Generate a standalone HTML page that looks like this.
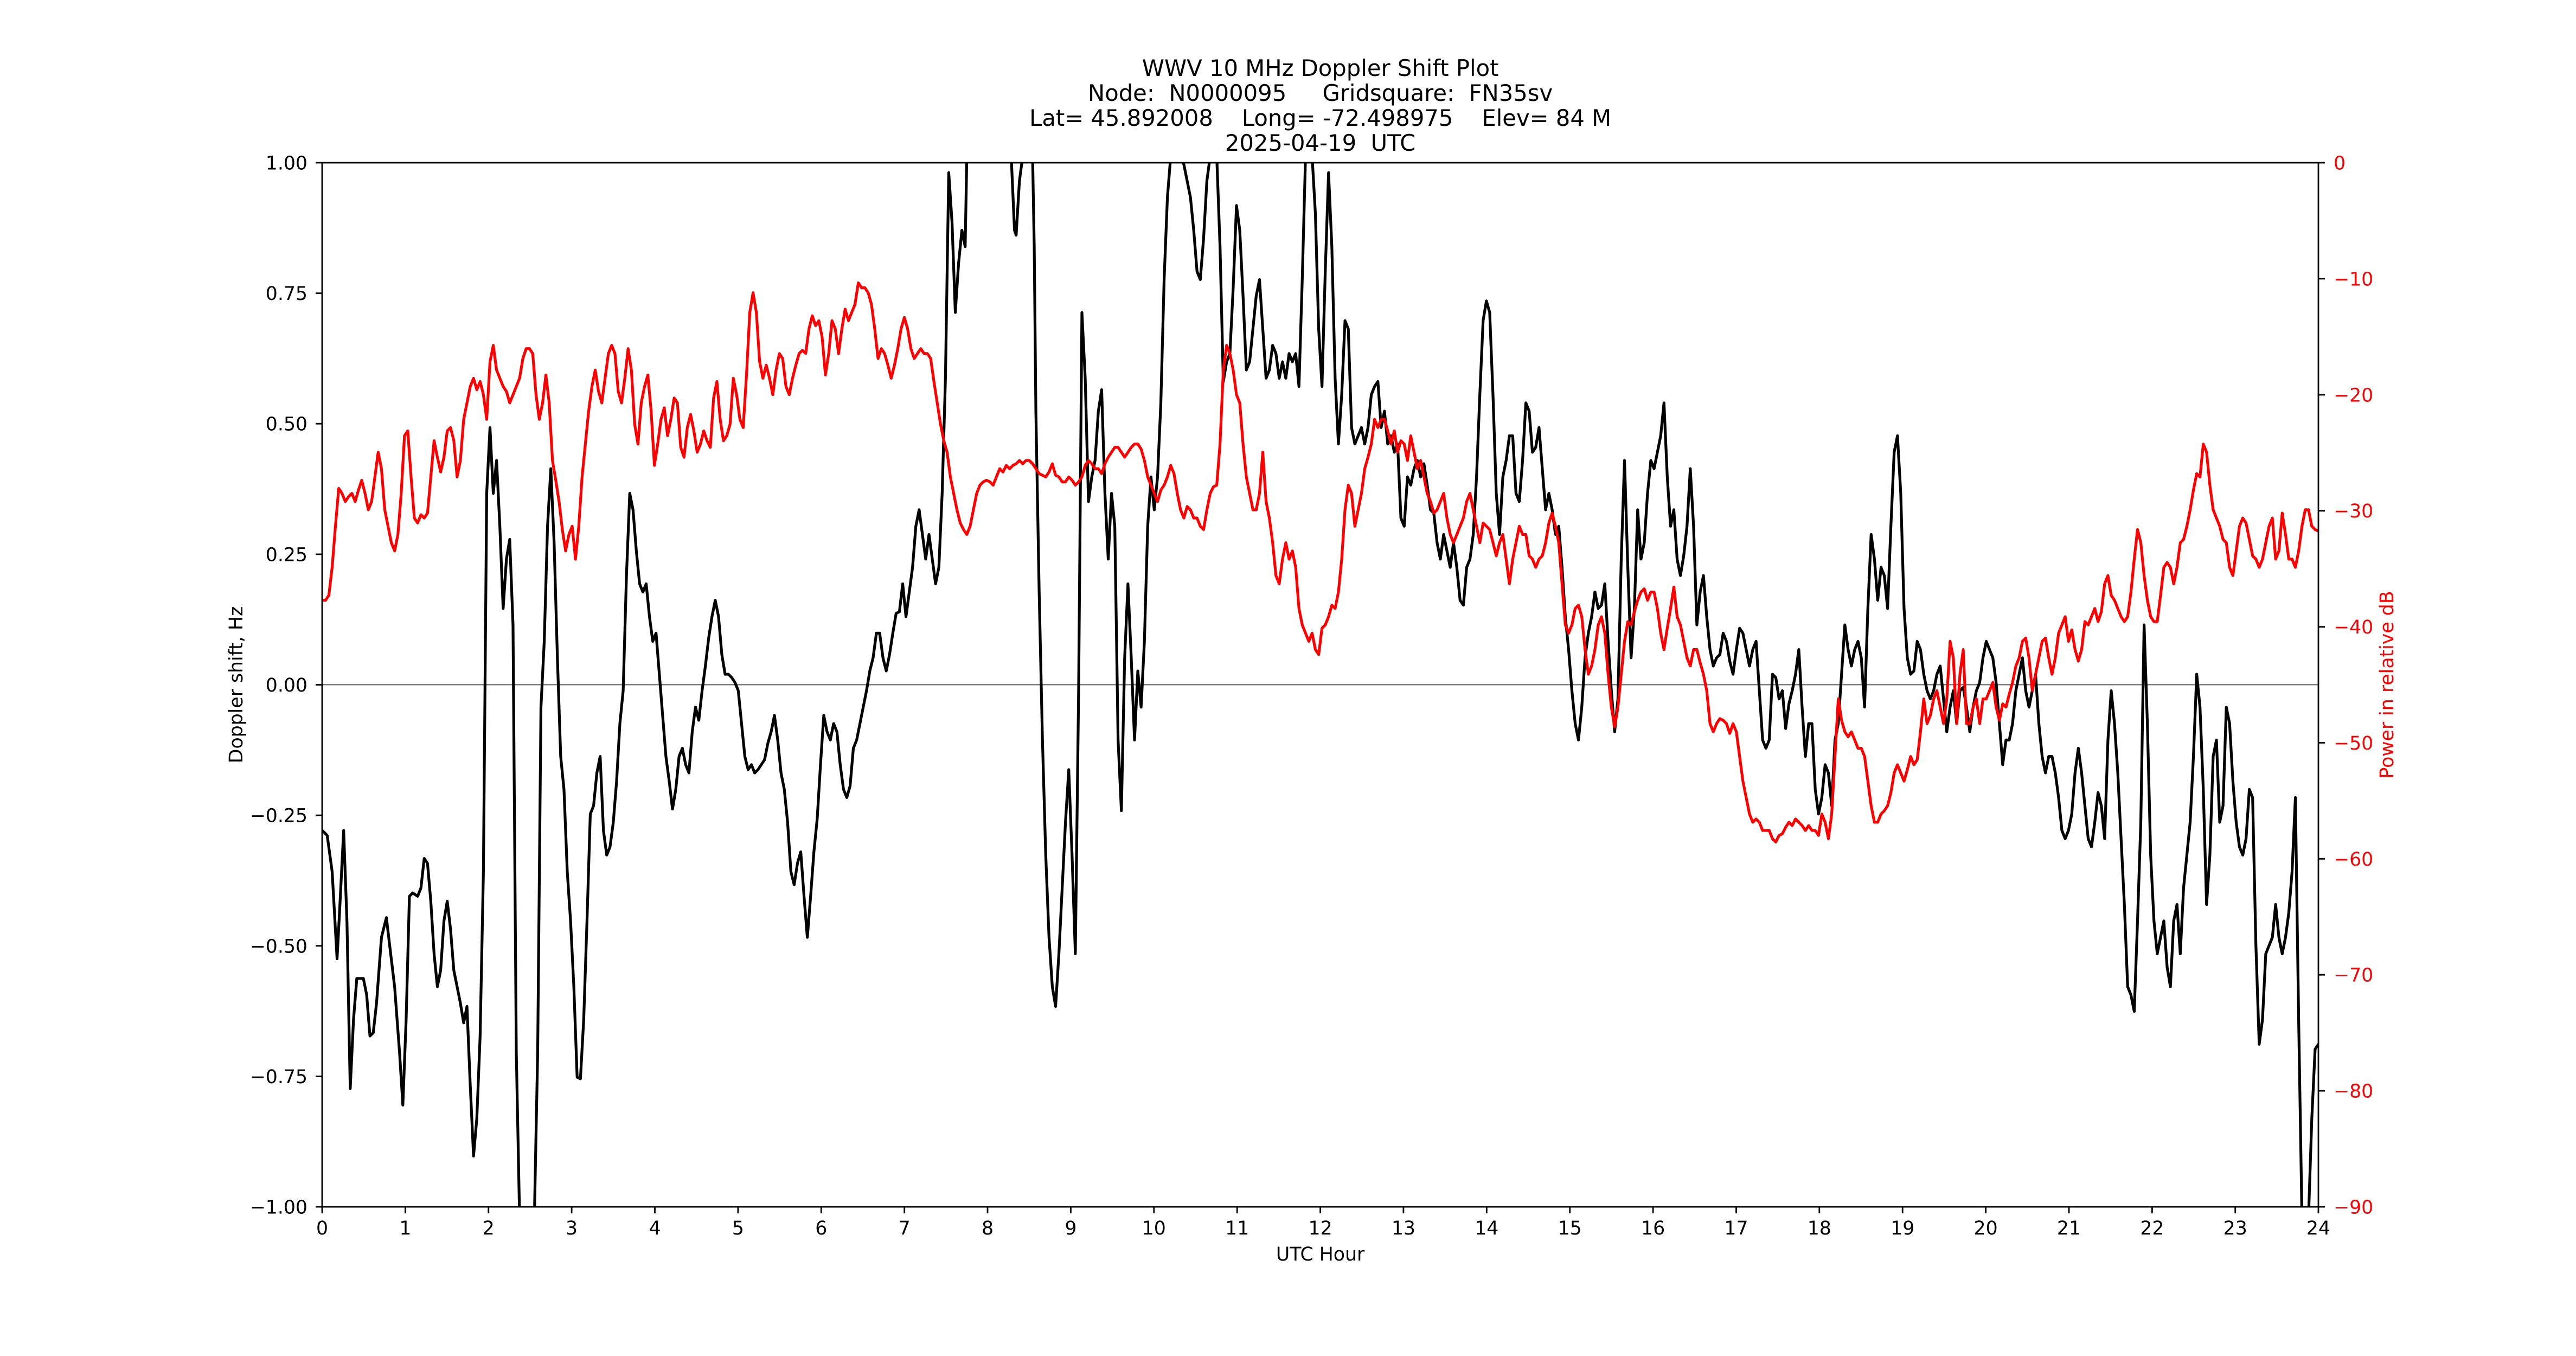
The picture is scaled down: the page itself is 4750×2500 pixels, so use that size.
<!DOCTYPE html>
<html><head><meta charset="utf-8"><style>html,body{margin:0;padding:0;background:#fff}svg{display:block}</style></head>
<body>
<svg width="4750" height="2500" viewBox="0 0 4750 2500" xmlns="http://www.w3.org/2000/svg" font-family="DejaVu Sans, Liberation Sans, sans-serif">
<rect width="4750" height="2500" fill="#fff"/>
<defs><clipPath id="c"><rect x="196" y="99" width="1214" height="635"/></clipPath></defs>
<g transform="scale(3.0319)" clip-path="url(#c)" fill="none" stroke-linejoin="round" stroke-linecap="round">
<line x1="196" y1="416.3" x2="1410" y2="416.3" stroke="#808080" stroke-width="0.9"/>
<polyline stroke="#000" stroke-width="1.7" points="196,505 199,508 202,530 205,583 207,545 209,505 211,560 213,662 215,620 217,595 219,595 221,595 223,605 225,630 227,628 229,610 232,570 235,558 237,575 240,600 243,640 245,672 247,620 249,545 251,543 254,545 256,540 258,522 260,525 262,548 264,580 266,600 268,590 270,560 272,548 274,565 276,590 278,600 280,610 282,622 284,612 286,660 288,703 290,680 292,630 294,530 296,300 298,260 300,300 302,280 304,320 306,370 308,340 310,328 312,380 314,640 316,740 325,740 327,640 329,430 331,390 333,320 335,285 337,330 339,400 341,460 343,480 345,530 347,560 349,600 351,655 353,656 355,620 357,560 359,495 361,490 363,470 365,460 367,505 369,520 371,515 373,500 375,475 377,440 379,420 381,350 383,300 385,310 387,335 389,355 391,360 393,355 395,375 397,390 399,385 401,410 403,435 405,460 407,475 409,492 411,480 413,460 415,455 417,465 419,470 421,445 423,430 425,438 427,420 429,405 431,388 433,375 435,365 437,375 439,398 441,410 443,410 445,412 447,415 449,420 451,440 453,460 455,468 457,465 459,470 461,468 463,465 465,462 467,452 469,445 471,435 473,450 475,470 477,480 479,500 481,530 483,538 485,525 487,518 489,545 491,570 493,545 495,518 497,498 499,465 501,435 503,445 505,450 507,440 509,445 511,465 513,480 515,485 517,478 519,455 521,450 523,440 525,430 527,420 529,408 531,400 533,385 535,385 537,400 539,408 541,398 543,385 545,373 547,372 549,355 551,375 553,360 555,345 557,320 559,310 561,325 563,340 565,325 567,340 569,355 571,345 573,300 575,230 577,105 579,135 581,190 583,160 585,140 587,150 588,95 615,95 617,140 618,143 620,110 622,95 628,95 629,150 630,250 632,360 634,450 636,520 638,570 640,600 642,612 644,580 646,540 648,500 650,468 652,520 654,580 656,420 658,190 660,230 662,305 664,290 666,280 668,250 670,237 672,300 674,340 676,300 678,320 680,450 682,493 684,400 686,355 688,400 690,450 692,408 694,430 696,390 698,320 700,290 702,310 704,290 706,245 708,170 710,120 712,95 718,95 720,100 722,110 724,120 726,140 728,165 730,170 732,145 734,110 736,95 740,95 742,150 744,232 746,220 748,215 750,175 752,125 754,140 756,180 758,225 760,220 762,200 764,180 766,170 768,200 770,230 772,225 774,210 776,215 778,230 780,220 782,230 784,215 786,220 788,215 790,235 792,170 794,95 798,95 800,130 802,200 804,235 806,165 808,105 810,150 812,230 814,270 816,240 818,195 820,200 822,260 824,270 826,265 828,260 830,270 832,260 834,240 836,235 838,232 840,260 842,250 844,270 846,265 848,275 850,270 852,315 854,320 856,290 858,295 860,285 862,280 864,290 866,282 868,295 870,310 872,312 874,330 876,340 878,325 880,335 882,345 884,330 886,345 888,365 890,368 892,345 894,340 896,325 898,290 900,240 902,195 904,183 906,190 908,240 910,300 912,325 914,290 916,280 918,265 920,265 922,300 924,305 926,280 928,245 930,250 932,275 934,272 936,260 938,285 940,310 942,300 944,310 946,325 948,320 950,345 952,375 954,395 956,420 958,440 960,450 962,430 964,400 966,385 968,375 970,360 972,370 974,368 976,355 978,390 980,420 982,445 984,425 986,340 988,280 990,345 992,400 994,370 996,310 998,340 1000,330 1002,300 1004,280 1006,285 1008,275 1010,265 1012,245 1014,290 1016,320 1018,310 1020,340 1022,350 1024,338 1026,320 1028,285 1030,320 1032,380 1034,360 1036,350 1038,375 1040,395 1042,405 1044,400 1046,398 1048,385 1050,390 1052,402 1054,410 1056,395 1058,382 1060,385 1062,395 1064,405 1066,395 1068,390 1070,420 1072,450 1074,455 1076,450 1078,410 1080,412 1082,425 1084,420 1086,443 1088,428 1090,420 1092,410 1094,395 1096,430 1098,460 1100,440 1102,440 1104,480 1106,495 1108,485 1110,465 1112,470 1114,490 1116,450 1118,440 1120,410 1122,380 1124,395 1126,405 1128,395 1130,390 1132,400 1134,430 1136,370 1138,325 1140,340 1142,365 1144,345 1146,350 1148,370 1150,320 1152,275 1154,265 1156,300 1158,370 1160,400 1162,410 1164,408 1166,390 1168,395 1170,410 1172,420 1174,425 1176,420 1178,410 1180,405 1182,425 1184,445 1186,430 1188,420 1190,440 1192,420 1194,418 1196,430 1198,445 1200,430 1202,420 1204,415 1206,400 1208,390 1210,395 1212,400 1214,415 1216,440 1218,465 1220,450 1222,450 1224,440 1226,420 1228,410 1230,400 1232,420 1234,430 1236,420 1238,410 1240,440 1242,460 1244,470 1246,460 1248,460 1250,470 1252,485 1254,505 1256,510 1258,505 1260,495 1262,470 1264,455 1266,470 1268,490 1270,510 1272,515 1274,500 1276,482 1278,490 1280,510 1282,450 1284,420 1286,440 1288,470 1290,510 1292,550 1294,600 1296,605 1298,615 1300,560 1302,500 1304,380 1306,440 1308,520 1310,560 1312,580 1314,570 1316,560 1318,588 1320,600 1322,560 1324,550 1326,580 1328,540 1330,520 1332,500 1334,460 1336,410 1338,430 1340,480 1342,550 1344,520 1346,460 1348,450 1350,500 1352,490 1354,430 1356,440 1358,475 1360,500 1362,515 1364,520 1366,510 1368,480 1370,485 1372,575 1374,635 1376,620 1378,580 1380,575 1382,570 1384,550 1386,570 1388,580 1390,570 1392,555 1394,530 1396,485 1398,620 1400,740 1404,740 1406,680 1408,638 1410,635"/>
<polyline stroke="#f00" stroke-width="1.7" points="196,365 198,365 200,362 202,345 204,320 206,297 208,300 210,305 212,302 214,300 216,305 218,298 220,292 222,300 224,310 226,305 228,290 230,275 232,285 234,310 236,320 238,330 240,335 242,325 244,300 246,265 248,262 250,290 252,315 254,318 256,313 258,315 260,312 262,290 264,268 266,278 268,287 270,278 272,262 274,260 276,268 278,290 280,280 282,255 284,245 286,235 288,230 290,237 292,232 294,240 296,255 298,220 300,210 302,225 304,230 306,235 308,238 310,245 312,240 314,235 316,230 318,218 320,212 322,212 324,215 326,240 328,255 330,245 332,228 334,245 336,280 338,292 340,305 342,322 344,335 346,325 348,320 350,340 352,320 354,290 356,270 358,250 360,235 362,225 364,238 366,245 368,230 370,215 372,210 374,215 376,238 378,245 380,230 382,212 384,225 386,258 388,270 390,245 392,235 394,228 396,250 398,283 400,270 402,255 404,248 406,265 408,255 410,242 412,245 414,272 416,278 418,260 420,252 422,262 424,275 426,270 428,262 430,268 432,272 434,242 436,232 438,255 440,268 442,265 444,258 446,230 448,240 450,255 452,260 454,228 456,190 458,178 460,190 462,220 464,230 466,222 468,230 470,240 472,225 474,215 476,218 478,235 480,240 482,230 484,222 486,215 488,213 490,215 492,200 494,192 496,198 498,195 500,205 502,228 504,215 506,195 508,200 510,215 512,200 514,188 516,195 518,190 520,185 522,172 524,175 526,175 528,178 530,185 532,200 534,218 536,212 538,215 540,222 542,230 544,222 546,212 548,200 550,193 552,200 554,212 556,218 558,215 560,212 562,215 564,215 566,218 568,232 570,245 572,258 574,268 576,275 578,290 580,300 582,310 584,318 586,322 588,325 590,320 592,310 594,300 596,295 598,293 600,292 602,293 604,295 606,290 608,285 610,287 612,283 614,285 616,283 618,282 620,280 622,282 624,280 626,280 628,282 630,285 632,288 634,289 636,290 638,287 640,282 642,289 644,290 646,293 648,293 650,290 652,292 654,295 656,293 658,290 660,283 662,280 664,282 666,285 668,285 670,288 672,282 674,278 676,275 678,272 680,272 682,275 684,278 686,275 688,272 690,270 692,270 694,273 696,280 698,290 700,295 702,300 704,305 706,298 708,295 710,290 712,283 714,288 716,300 718,310 720,315 722,308 724,310 726,315 728,315 730,320 732,322 734,310 736,300 738,296 740,295 742,270 744,225 746,210 748,215 750,225 752,240 754,245 756,270 758,290 760,300 762,310 764,310 766,300 768,275 770,305 772,315 774,330 776,350 778,355 780,340 782,330 784,340 786,335 788,345 790,370 792,380 794,385 796,390 798,385 800,395 802,398 804,382 806,380 808,375 810,368 812,370 814,360 816,340 818,310 820,295 822,300 824,320 826,310 828,300 830,285 832,278 834,270 836,255 838,260 840,255 842,255 844,262 846,270 848,262 850,275 852,268 854,270 856,280 858,265 860,275 862,285 864,280 866,290 868,300 870,305 872,312 874,310 876,305 878,300 880,315 882,325 884,330 886,325 888,320 890,315 892,305 894,300 896,310 898,320 900,330 902,318 904,320 906,322 908,330 910,338 912,330 914,325 916,340 918,355 920,340 922,330 924,320 926,325 928,325 930,338 932,340 934,345 936,340 938,338 940,330 942,318 944,312 946,320 948,330 950,355 952,380 954,385 956,380 958,370 960,368 962,375 964,395 966,410 968,405 970,395 972,380 974,375 976,385 978,410 980,430 982,442 984,430 986,410 988,390 990,378 992,380 994,372 996,365 998,360 1000,358 1002,365 1004,360 1006,360 1008,370 1010,385 1012,395 1014,382 1016,370 1018,357 1020,375 1022,380 1024,390 1026,400 1028,405 1030,395 1032,395 1034,403 1036,410 1038,420 1040,440 1042,445 1044,440 1046,437 1048,438 1050,440 1052,446 1054,440 1056,445 1058,460 1060,475 1062,485 1064,495 1066,500 1068,498 1070,500 1072,505 1074,505 1076,505 1078,510 1080,512 1082,508 1084,507 1086,503 1088,500 1090,502 1092,498 1094,500 1096,502 1098,505 1100,502 1102,505 1104,505 1106,508 1108,495 1110,500 1112,510 1114,495 1116,460 1118,425 1120,438 1122,445 1124,448 1126,445 1128,450 1130,455 1132,455 1134,460 1136,475 1138,490 1140,500 1142,500 1144,495 1146,493 1148,490 1150,482 1152,470 1154,465 1156,470 1158,475 1160,468 1162,460 1164,465 1166,462 1168,445 1170,425 1172,440 1174,435 1176,425 1178,420 1180,430 1182,440 1184,425 1186,390 1188,400 1190,440 1192,410 1194,395 1196,440 1198,440 1200,430 1202,425 1204,440 1206,425 1208,425 1210,420 1212,415 1214,430 1216,438 1218,428 1220,430 1222,422 1224,415 1226,405 1228,400 1230,390 1232,388 1234,400 1236,420 1238,410 1240,400 1242,390 1244,388 1246,400 1248,410 1250,400 1252,385 1254,380 1256,375 1258,390 1260,383 1262,395 1264,402 1266,395 1268,378 1270,380 1272,375 1274,370 1276,378 1278,372 1280,355 1282,350 1284,362 1286,365 1288,370 1290,375 1292,378 1294,375 1296,360 1298,340 1300,322 1302,330 1304,350 1306,365 1308,375 1310,378 1312,378 1314,362 1316,345 1318,342 1320,345 1322,355 1324,345 1326,330 1328,328 1330,320 1332,310 1334,298 1336,288 1338,290 1340,270 1342,275 1344,295 1346,310 1348,315 1350,320 1352,328 1354,330 1356,345 1358,350 1360,335 1362,320 1364,315 1366,318 1368,328 1370,338 1372,340 1374,345 1376,340 1378,330 1380,320 1382,315 1384,340 1386,335 1388,312 1390,325 1392,340 1394,340 1396,345 1398,335 1400,320 1402,310 1404,310 1406,320 1408,322 1410,323"/>
</g>
<rect x="594" y="300" width="3681" height="1925" fill="none" stroke="#000" stroke-width="2.8"/>
<g stroke="#000" stroke-width="2.8">
<path d="M594,2225v12M747.4,2225v12M900.8,2225v12M1054.1,2225v12M1207.5,2225v12M1360.9,2225v12M1514.3,2225v12M1667.7,2225v12M1821,2225v12M1974.4,2225v12M2127.8,2225v12M2281.2,2225v12M2434.6,2225v12M2587.9,2225v12M2741.3,2225v12M2894.7,2225v12M3048.1,2225v12M3201.5,2225v12M3354.8,2225v12M3508.2,2225v12M3661.6,2225v12M3815,2225v12M3968.4,2225v12M4121.7,2225v12M4275,2225v12"/>
<path d="M594,300h-12M594,540.6h-12M594,781.2h-12M594,1021.9h-12M594,1262.5h-12M594,1503.1h-12M594,1743.8h-12M594,1984.4h-12M594,2225h-12"/>
<path d="M4275,300h12M4275,513.9h12M4275,727.8h12M4275,941.7h12M4275,1155.6h12M4275,1369.4h12M4275,1583.3h12M4275,1797.2h12M4275,2011.1h12M4275,2225h12"/>
</g>
<g font-size="34.7" fill="#000" text-anchor="middle">
<text x="594" y="2276">0</text><text x="747.4" y="2276">1</text><text x="900.8" y="2276">2</text><text x="1054.1" y="2276">3</text><text x="1207.5" y="2276">4</text><text x="1360.9" y="2276">5</text><text x="1514.3" y="2276">6</text><text x="1667.7" y="2276">7</text><text x="1821" y="2276">8</text><text x="1974.4" y="2276">9</text><text x="2127.8" y="2276">10</text><text x="2281.2" y="2276">11</text><text x="2434.6" y="2276">12</text><text x="2587.9" y="2276">13</text><text x="2741.3" y="2276">14</text><text x="2894.7" y="2276">15</text><text x="3048.1" y="2276">16</text><text x="3201.5" y="2276">17</text><text x="3354.8" y="2276">18</text><text x="3508.2" y="2276">19</text><text x="3661.6" y="2276">20</text><text x="3815" y="2276">21</text><text x="3968.4" y="2276">22</text><text x="4121.7" y="2276">23</text><text x="4275" y="2276">24</text>
<text x="2434.6" y="2324">UTC Hour</text>
<text transform="translate(447,1262.5) rotate(-90)">Doppler shift, Hz</text>
<text transform="translate(4413,1262.5) rotate(-90)" fill="#f00">Power in relative dB</text>
</g>
<g font-size="41.7" fill="#000" text-anchor="middle">
<text x="2434.6" y="140">WWV 10 MHz Doppler Shift Plot</text>
<text x="2434.6" y="186" xml:space="preserve">Node:  N0000095     Gridsquare:  FN35sv</text>
<text x="2434.6" y="232" xml:space="preserve">Lat= 45.892008    Long= -72.498975    Elev= 84 M</text>
<text x="2434.6" y="278" xml:space="preserve">2025-04-19  UTC</text>
</g>
<g font-size="34.7" fill="#000" text-anchor="end">
<text x="567" y="312.5">1.00</text><text x="567" y="553">0.75</text><text x="567" y="793.7">0.50</text><text x="567" y="1034.4">0.25</text><text x="567" y="1275">0.00</text><text x="567" y="1515.6">−0.25</text><text x="567" y="1756.3">−0.50</text><text x="567" y="1996.9">−0.75</text><text x="567" y="2237.5">−1.00</text>
</g>
<g font-size="34.7" fill="#f00" text-anchor="start">
<text x="4303" y="312.5">0</text><text x="4303" y="526.4">−10</text><text x="4303" y="740.3">−20</text><text x="4303" y="954.2">−30</text><text x="4303" y="1168.1">−40</text><text x="4303" y="1381.9">−50</text><text x="4303" y="1595.8">−60</text><text x="4303" y="1809.7">−70</text><text x="4303" y="2023.6">−80</text><text x="4303" y="2237.5">−90</text>
</g>
</svg>
</body></html>
